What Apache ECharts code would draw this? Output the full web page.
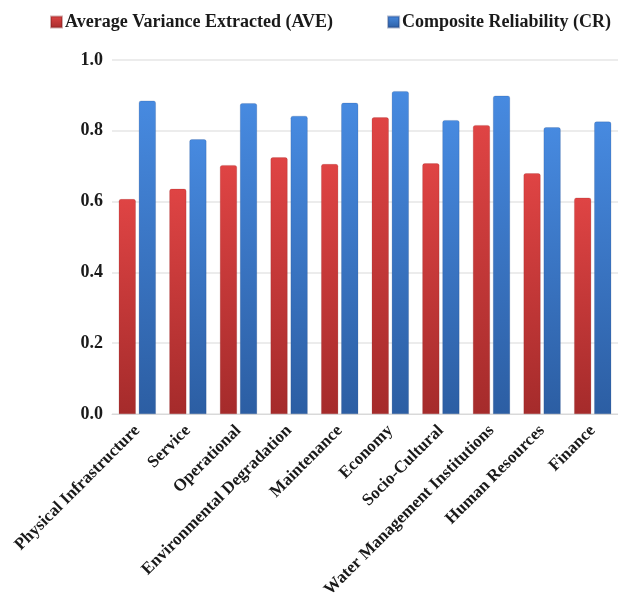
<!DOCTYPE html>
<html>
<head>
<meta charset="utf-8">
<script src="https://cdn.jsdelivr.net/npm/echarts@6/dist/echarts.min.js"></script>
<style>
    html, body { margin: 0; padding: 0; background: #fff; }
    #chart { width: 618px; height: 603px; }
</style>
</head>
<body>
<div id="chart"></div>
<script>
const categories = [
    "Physical Infrastructure",
    "Service",
    "Operational",
    "Environmental Degradation",
    "Maintenance",
    "Economy",
    "Socio-Cultural",
    "Water Management Institutions",
    "Human Resources",
    "Finance",
];
const aveValues = [0.607, 0.636, 0.703, 0.725, 0.706, 0.838, 0.708, 0.816, 0.680, 0.611];
const crValues = [0.885, 0.776, 0.878, 0.842, 0.879, 0.912, 0.830, 0.899, 0.810, 0.826];
const yTicks = [0, 0.2, 0.4, 0.6, 0.8, 1.0];

const serif = "Liberation Serif";

// 柱子渐变
function barGradient(top, bottom) {
    return new echarts.graphic.LinearGradient(0, 0, 0, 1, [
        { offset: 0, color: top },
        { offset: 1, color: bottom },
    ]);
}

const option = {
    animation: false,
    textStyle: { fontFamily: serif },
    legend: {
        top: 13,
        left: 50,
        width: 610,
        padding: 0,
        itemGap: 54,
        itemWidth: 11,
        itemHeight: 11,
        icon: "rect",
        textStyle: {
            fontFamily: serif,
            fontWeight: "bold",
            fontSize: 18,
            color: "#1a1a1a",
            padding: [0, 0, 0, -2],
        },
    },
    grid: {
        left: 112,
        right: 0,
        top: 60,
        bottom: 189,
        containLabel: false,
    },
    xAxis: {
        type: "category",
        data: categories,
        axisLine: { lineStyle: { color: "#d9d9d9", width: 1 } },
        axisTick: { show: false },
        axisLabel: {
            interval: 0,
            rotate: 45,
            margin: 14,
            fontFamily: serif,
            fontWeight: "bold",
            fontSize: 17,
            color: "#1a1a1a",
        },
    },
    yAxis: {
        type: "value",
        min: 0,
        max: 1.0,
        interval: 0.2,
        axisLine: { show: false },
        axisTick: { show: false },
        splitLine: { lineStyle: { color: "#e6e6e6", width: 1.5 } },
        axisLabel: {
            margin: 9,
            fontFamily: serif,
            fontWeight: "bold",
            fontSize: 18,
            color: "#1a1a1a",
            formatter: (v) => (yTicks.includes(Math.round(v * 10) / 10) ? v.toFixed(1) : ""),
        },
    },
    series: [
        {
            name: "Average Variance Extracted (AVE)",
            type: "bar",
            data: aveValues,
            barWidth: 17,
            barGap: "18%",
            itemStyle: {
                color: barGradient("#df4444", "#a52b2b"),
                borderColor: "rgba(120,20,20,0.35)",
                borderWidth: 0.5,
                borderRadius: [2, 2, 0, 0],
            },
        },
        {
            name: "Composite Reliability (CR)",
            type: "bar",
            data: crValues,
            barWidth: 17,
            itemStyle: {
                color: barGradient("#478ae0", "#2c5ea3"),
                borderColor: "rgba(20,50,110,0.35)",
                borderWidth: 0.5,
                borderRadius: [2, 2, 0, 0],
            },
        },
    ],
    color: ["#dd3b3b", "#3f7fd6"],
};

const chart = echarts.init(document.getElementById("chart"));
chart.setOption(option);
</script>
</body>
</html>
